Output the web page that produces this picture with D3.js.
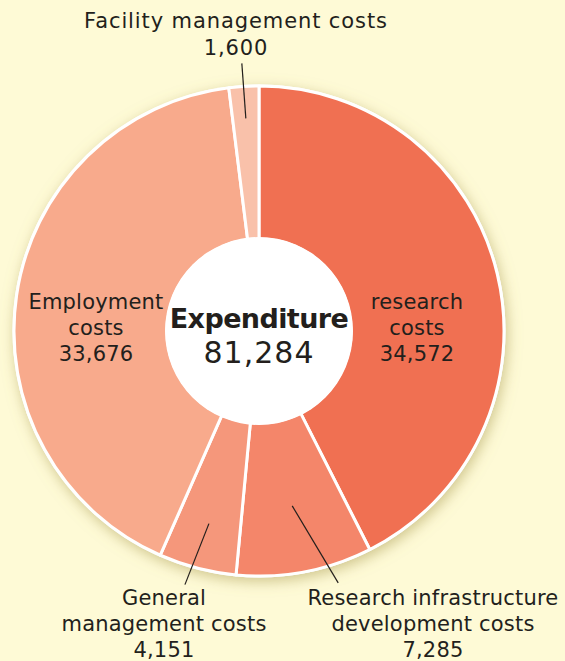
<!DOCTYPE html>
<html>
<head>
<meta charset="utf-8">
<script src="https://cdn.jsdelivr.net/npm/d3@7"></script>
<style>
  body { margin: 0; background: #fefad6; }
  svg { display: block; }
  text { font-family: "DejaVu Sans", sans-serif; fill: #231f1c; }
</style>
</head>
<body>
<div id="chart"></div>
<script>
// data
let categories = ['research costs', 'Research infrastructure development costs', 'General management costs', 'Employment costs', 'Facility management costs']
let values = [34572, 7285, 4151, 33676, 1600]
let colors = ['#f07052', '#f4866a', '#f5977b', '#f8aa8c', '#f9c1aa']
let labelLines = [
    ['research', 'costs', '34,572'],
    ['Research infrastructure', 'development costs', '7,285'],
    ['General', 'management costs', '4,151'],
    ['Employment', 'costs', '33,676'],
    ['Facility management costs', '1,600']
]
let totalLabel = ['Expenditure', '81,284']

let width = 565, height = 661
let cx = 259, cy = 331
let outerR = 245, innerR = 94

let svg = d3.select('#chart')
.append('svg')
.attr('width', width)
.attr('height', height)

let defs = svg.append('defs')
let filter = defs.append('filter')
.attr('id', 'glow')
.attr('x', '-20%').attr('y', '-20%')
.attr('width', '140%').attr('height', '140%')
filter.append('feDropShadow')
.attr('dx', 2).attr('dy', 4)
.attr('stdDeviation', 7)
.attr('flood-color', '#a89a50')
.attr('flood-opacity', 0.55)

let g = svg.append('g').attr('transform', `translate(${cx},${cy})`)

let pie = d3.pie().sort(null).value(d => d)
let arcs = pie(values)

let arc = d3.arc().innerRadius(innerR - 2).outerRadius(outerR)

// shadow base
g.append('circle')
.attr('r', outerR + 1.5)
.attr('fill', '#fff')
.attr('filter', 'url(#glow)')

g.selectAll('path.slice')
.data(arcs)
.join('path')
.attr('class', 'slice')
.attr('d', arc)
.attr('fill', (d, i) => colors[i])
.attr('stroke', '#fff')
.attr('stroke-width', 3)
.attr('stroke-linejoin', 'round')

g.append('circle')
.attr('r', innerR)
.attr('fill', '#fff')

// center text
g.append('text')
.attr('text-anchor', 'middle')
.attr('y', -3)
.style('font-size', '27px')
.style('font-weight', 'bold')
.style('letter-spacing', '-0.6px')
.text(totalLabel[0])

g.append('text')
.attr('text-anchor', 'middle')
.attr('y', 32)
.style('font-size', '30px')
.style('letter-spacing', '1px')
.text(totalLabel[1])

// label positions (page coords)
let labelPos = [
    {x: 417, y: 309},
    {x: 433, y: 605},
    {x: 164, y: 605},
    {x: 96, y: 309},
    {x: 236, y: 28}
]
let lineH = [26, 26, 26, 26, 27]

labelLines.forEach((lines, i) => {
    let t = svg.append('text')
    .attr('text-anchor', 'middle')
    .style('font-size', '21px')
    .style('letter-spacing', i == 4 ? '0.9px' : '0.2px')
    lines.forEach((l, j) => {
        t.append('tspan')
        .attr('x', labelPos[i].x)
        .attr('y', labelPos[i].y + j * lineH[i])
        .text(l)
    })
})

// leader lines: from inside slice out to label
let leaders = [
    {i: 1, r: 178, dx: 46, dy: 77},
    {i: 2, r: 199, dx: -24, dy: 61},
    {i: 4, r: 213, dx: -4, dy: -55}
]
leaders.forEach(o => {
    let a = arcs[o.i]
    let mid = (a.startAngle + a.endAngle) / 2
    let x1 = cx + o.r * Math.sin(mid)
    let y1 = cy - o.r * Math.cos(mid)
    svg.append('line')
    .attr('x1', x1).attr('y1', y1)
    .attr('x2', x1 + o.dx).attr('y2', y1 + o.dy)
    .attr('stroke', '#231f1c')
    .attr('stroke-width', 1.2)
})
</script>
</body>
</html>
